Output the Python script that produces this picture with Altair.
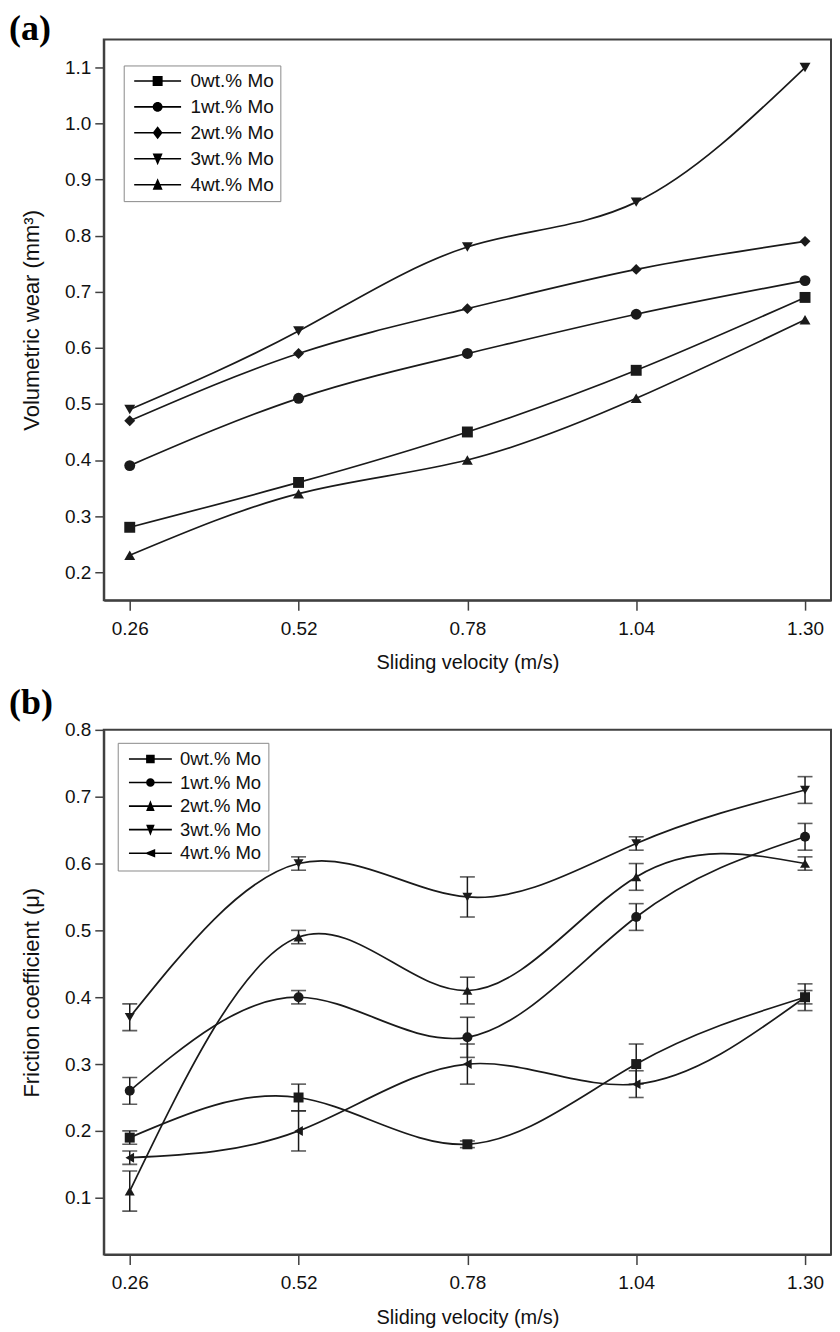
import altair as alt
import pandas as pd

# ---------------- data ----------------
velocity = [0.26, 0.52, 0.78, 1.04, 1.30]
series_names = ["0wt.% Mo", "1wt.% Mo", "2wt.% Mo", "3wt.% Mo", "4wt.% Mo"]

# (a) volumetric wear (mm^3)
wear_0 = [0.28, 0.36, 0.45, 0.56, 0.69]
wear_1 = [0.39, 0.51, 0.59, 0.66, 0.72]
wear_2 = [0.47, 0.59, 0.67, 0.74, 0.79]
wear_3 = [0.49, 0.63, 0.78, 0.86, 1.10]
wear_4 = [0.23, 0.34, 0.40, 0.51, 0.65]

# (b) friction coefficient and error (+/-)
fric_0 = [0.19, 0.25, 0.18, 0.30, 0.40]
fric_1 = [0.26, 0.40, 0.34, 0.52, 0.64]
fric_2 = [0.11, 0.49, 0.41, 0.58, 0.60]
fric_3 = [0.37, 0.60, 0.55, 0.63, 0.71]
fric_4 = [0.16, 0.20, 0.30, 0.27, 0.40]
ferr_0 = [0.01, 0.02, 0.005, 0.03, 0.02]
ferr_1 = [0.02, 0.01, 0.03, 0.02, 0.02]
ferr_2 = [0.03, 0.01, 0.02, 0.02, 0.01]
ferr_3 = [0.02, 0.01, 0.03, 0.01, 0.02]
ferr_4 = [0.01, 0.03, 0.03, 0.02, 0.01]

wear_ticks = [0.2, 0.3, 0.4, 0.5, 0.6, 0.7, 0.8, 0.9, 1.0, 1.1]
fric_ticks = [0.1, 0.2, 0.3, 0.4, 0.5, 0.6, 0.7, 0.8]
panel_tags = ["(a)", "(b)"]
x_title = "Sliding velocity (m/s)"
y_titles = ["Volumetric wear (mm\u00b3)", "Friction coefficient (\u03bc)"]

# ---------------- styling ----------------
FONT = "Liberation Sans"
INK = "#1a1a1a"
FRAME = "#404040"
PLOT_W = 729
SYM = 100  # legend symbol size; path units are sqrt(SYM)/2 px
UNIT = (SYM ** 0.5) / 2
SYM_W = 2 * UNIT  # width vega reserves for the symbol (stroke width 0)


def long_df(values, errors=None):
    rows = []
    for i, s in enumerate(series_names):
        for j, v in enumerate(velocity):
            row = {"series": s, "v": v, "y": values[i][j]}
            if errors is not None:
                row["lo"] = round(values[i][j] - errors[i][j], 4)
                row["hi"] = round(values[i][j] + errors[i][j], 4)
            rows.append(row)
    return pd.DataFrame(rows)


def f(v):
    return f"{v:.3f}".rstrip("0").rstrip(".")


def legend_path(kind, half_len, mw, mh):
    # everything drawn clockwise so that overlapping parts stay filled
    d = (half_len - SYM_W / 2) / UNIT  # shift so the line starts at the legend content edge
    L, a, b, t = half_len / UNIT, mw / UNIT, mh / UNIT, 0.8 / UNIT
    X = lambda v: f(v + d)
    line = f"M{X(-L)},{f(-t)}H{X(L)}V{f(t)}H{X(-L)}Z"
    if kind == "square":
        m = f"M{X(-a)},{f(-a)}H{X(a)}V{f(a)}H{X(-a)}Z"
    elif kind == "circle":
        m = f"M{X(-a)},0A{f(a)},{f(a)},0,1,1,{X(a)},0A{f(a)},{f(a)},0,1,1,{X(-a)},0Z"
    elif kind == "diamond":
        m = f"M{X(0)},{f(-b)}L{X(a)},0L{X(0)},{f(b)}L{X(-a)},0Z"
    elif kind == "tdown":
        m = f"M{X(-a)},{f(-b*0.8)}L{X(a)},{f(-b*0.8)}L{X(0)},{f(b)}Z"
    elif kind == "tup":
        m = f"M{X(-a)},{f(b*0.8)}L{X(0)},{f(-b)}L{X(a)},{f(b*0.8)}Z"
    else:  # tleft
        m = f"M{X(b*0.8)},{f(-a)}L{X(b*0.8)},{f(a)}L{X(-b)},0Z"
    return line + m


def panel(df, marker_shapes, legend_kinds, ydom, yticks, ytitle, tag, tag_y, height,
          leg_x, leg_y, leg_font, leg_row, leg_pad, leg_half, leg_gap, leg_mw, leg_mh,
          marker_size, errorbars):
    base = alt.Chart(df)
    xscale = alt.Scale(domain=[0.22, 1.34], nice=False, zero=False)
    yscale = alt.Scale(domain=ydom, nice=False, zero=False)
    xaxis = alt.Axis(values=velocity, format=".2f", title=x_title)
    yaxis = alt.Axis(values=yticks, format=".1f", title=ytitle)
    xenc = alt.X("v:Q", scale=xscale, axis=xaxis)
    yenc = alt.Y("y:Q", scale=yscale, axis=yaxis)

    layers = [
        base.mark_line(interpolate="natural", color=INK, strokeWidth=1.7).encode(
            x=xenc, y=yenc, detail="series:N")
    ]
    if errorbars:
        layers.append(base.mark_rule(color=INK, strokeWidth=1.5).encode(
            x=xenc, y=alt.Y("lo:Q", scale=yscale, axis=yaxis), y2="hi:Q"))
        for c in ["lo", "hi"]:
            layers.append(base.mark_tick(orient="horizontal", color=INK, size=15, thickness=1.6).encode(
                x=xenc, y=alt.Y(f"{c}:Q", scale=yscale, axis=yaxis)))
    layers.append(base.mark_point(filled=True, color=INK, opacity=1, size=marker_size).encode(
        x=xenc, y=yenc,
        shape=alt.Shape("series:N", scale=alt.Scale(domain=series_names, range=marker_shapes), legend=None)))

    paths = [legend_path(k, leg_half, leg_mw, leg_mh) for k in legend_kinds]
    label_offset = 2 * leg_half + leg_gap - SYM_W
    layers.append(base.transform_filter("false").mark_point(
        filled=True, color="black", opacity=1).encode(
        x=xenc, y=yenc,
        shape=alt.Shape("series:N", scale=alt.Scale(domain=series_names, range=paths),
                        legend=alt.Legend(orient="none", legendX=leg_x, legendY=leg_y, title=None,
                                          labelFont=FONT, labelFontSize=leg_font, labelColor="#111",
                                          symbolSize=SYM, rowPadding=leg_row, labelOffset=label_offset,
                                          symbolFillColor="black", symbolOpacity=1, symbolStrokeWidth=0,
                                          padding=leg_pad, strokeColor="#8a8a8a", fillColor="white"))))
    layers.append(alt.Chart(pd.DataFrame({"t": [tag]})).mark_text(
        font="Liberation Serif", fontWeight="bold", fontSize=36, align="left", baseline="top",
        color="black").encode(x=alt.value(-95), y=alt.value(tag_y), text="t:N"))
    return alt.layer(*layers).resolve_scale(shape="independent").properties(width=PLOT_W, height=height)


df_a = long_df([wear_0, wear_1, wear_2, wear_3, wear_4])
df_b = long_df([fric_0, fric_1, fric_2, fric_3, fric_4], [ferr_0, ferr_1, ferr_2, ferr_3, ferr_4])

pa = panel(df_a, ["square", "circle", "diamond", "triangle-down", "triangle-up"],
           ["square", "circle", "diamond", "tdown", "tup"],
           [0.15, 1.15], wear_ticks, y_titles[0], panel_tags[0], -28, 562,
           20, 26, 19, 6, 6, 23.5, 5, 5, 6.5, 120, False)
pb = panel(df_b, ["square", "circle", "triangle-up", "triangle-down", "triangle-left"],
           ["square", "circle", "tup", "tdown", "tleft"],
           [0.015, 0.8], fric_ticks, y_titles[1], panel_tags[1], -44, 526,
           14, 13, 18.5, 4.6, 7, 21.5, 4, 4.3, 6, 100, True)

chart = alt.vconcat(pa, pb, spacing=10).properties(
    padding={"left": 0, "top": 0, "right": 0, "bottom": 0}
).configure_view(stroke=FRAME, strokeWidth=2).configure_axis(
    grid=False, domainColor=FRAME, domainWidth=2, tickColor=FRAME, tickWidth=1.5,
    labelFont=FONT, labelFontSize=19, labelColor="#111",
    titleFont=FONT, titleFontSize=22, titleFontWeight="normal", titleColor="#111"
).configure_axisX(tickSize=10, labelPadding=9, titlePadding=15, titleFontSize=20).configure_axisY(
    tickSize=9, labelPadding=4, titlePadding=21)

chart.save("out.html", embed_options={"renderer": "svg", "actions": False})
